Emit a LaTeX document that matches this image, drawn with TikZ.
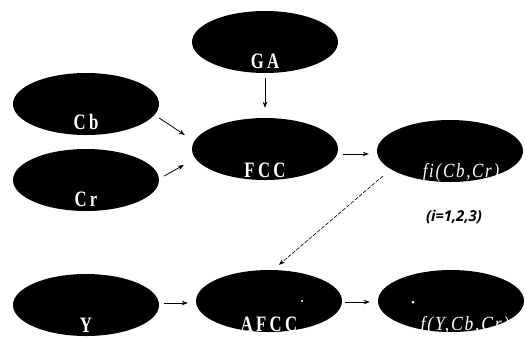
\documentclass[tikz,border=0pt]{standalone}
\usepackage{fontspec}
\usepackage{graphicx}
\usetikzlibrary{shapes.geometric,arrows.meta}
\newfontfamily\capfont[LetterSpace=20]{Liberation Serif}
\newfontfamily\itfont[LetterSpace=10]{Liberation Serif}
\newfontfamily\notefont{Open Sans}
\newcommand{\narrow}[2]{\scalebox{#1}[1]{#2}}
\tikzset{
  blob/.style={ellipse, fill=black, draw=none, minimum width=146pt,
    minimum height=62pt, inner sep=0pt},
  caption/.style={anchor=base, text=white, inner sep=0pt,
    font=\fontsize{22}{22}\selectfont\capfont\bfseries},
  fcaption/.style={anchor=base, text=white, inner sep=0pt,
    font=\fontsize{20}{20}\selectfont\itfont\itshape},
  arr/.style={-{Stealth[length=6pt,width=4.5pt]}, line width=0.8pt},
  dasharr/.style={arr, line width=0.6pt, dash pattern=on 4pt off 1.5pt},
}
\begin{document}
\begin{tikzpicture}[x=1pt, y=-1pt]
\useasboundingbox (0,0) rectangle (526,338);

% ellipses
\node[blob] (ga)   at (265,42)  {};
\node[blob] (cb)   at (86,104)  {};
\node[blob] (cr)   at (86,180)  {};
\node[blob] (fcc)  at (265,149) {};
\node[blob] (fi)   at (450,151) {};
\node[blob] (y)    at (86,305)  {};
\node[blob] (afcc) at (269,301) {};
\node[blob] (fy)   at (451,301) {};

% captions sitting low inside the ellipses
\node[caption] (ga-t)   at ([yshift=-26pt]ga.center)   {\narrow{0.76}{GA}};
\node[caption] (cb-t)   at ([yshift=-25pt]cb.center)   {\narrow{0.76}{Cb}};
\node[caption] (cr-t)   at ([yshift=-26pt]cr.center)   {\narrow{0.76}{Cr}};
\node[caption] (fcc-t)  at ([yshift=-28pt]fcc.center)  {\narrow{0.76}{FCC}};
\node[caption] (y-t)    at ([yshift=-27pt]y.center)    {\narrow{0.76}{Y}};
\node[caption] (afcc-t) at ([yshift=-30pt]afcc.center) {\narrow{0.76}{AFCC}};
\node[fcaption] (fi-t)  at ([shift={(11pt,-26pt)}]fi.center) {\narrow{0.85}{fi(Cb,Cr)}};
\node[fcaption] (fy-t)  at ([shift={(14pt,-29pt)}]fy.center) {\narrow{0.88}{f(Y,Cb,Cr)}};

% index note
\node[inner sep=0pt, font=\fontsize{15}{15}\selectfont\notefont\bfseries\itshape]
  (note) at (454,217) {(i=1,2,3)};

% small white specks
\fill[white] (302,301) circle (1.2pt);
\fill[white] (413,302) circle (1.5pt);

% connectors
\draw[arr] ([yshift=-5pt]ga.south) -- ([yshift=10pt]fcc.north);
\draw[arr] ([shift={(0pt,-14pt)}]cb.east) -- ([shift={(-7pt,14pt)}]fcc.west);
\draw[arr] ([shift={(5pt,4pt)}]cr.east) -- ([shift={(-8pt,-16pt)}]fcc.west);
\draw[arr] ([shift={(5pt,-5pt)}]fcc.east) -- ([shift={(-8pt,-3pt)}]fi.west);
\draw[dasharr] ([shift={(-67pt,-25pt)}]fi.center) -- ([shift={(10pt,5pt)}]afcc.north);
\draw[arr] ([shift={(5pt,2pt)}]y.east) -- ([shift={(-8pt,-2pt)}]afcc.west);
\draw[arr] ([shift={(3pt,-1pt)}]afcc.east) -- ([shift={(-8pt,-1pt)}]fy.west);
\end{tikzpicture}
\end{document}
